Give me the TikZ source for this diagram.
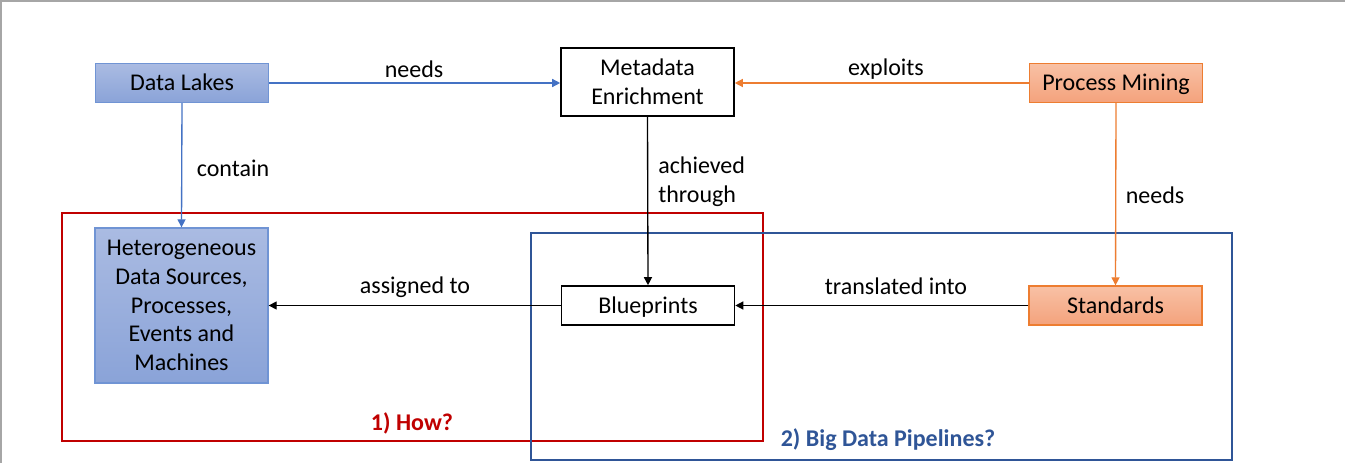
\documentclass[tikz,border=0pt]{standalone}
\usepackage{fontspec}
\setmainfont{Carlito}
\usetikzlibrary{arrows.meta,positioning}
\definecolor{lakeTop}{HTML}{AABBE2}
\definecolor{lakeBot}{HTML}{8AA3D8}
\definecolor{lakeLine}{HTML}{7094D4}
\definecolor{pmTop}{HTML}{F8C1A5}
\definecolor{pmBot}{HTML}{F4A27C}
\definecolor{pmLine}{HTML}{ED7D31}
\definecolor{arrBlue}{HTML}{4472C4}
\definecolor{boxRed}{HTML}{C00000}
\definecolor{boxBlue}{HTML}{2F5597}
\definecolor{frameGray}{HTML}{A6A6A6}
\tikzset{
  every node/.style={font=\fontsize{18}{21.5}\selectfont, inner sep=0pt},
  oneline/.style={text height=12.5pt, text depth=1pt},
  bluebox/.style={draw=lakeLine, line width=1pt, top color=lakeTop, bottom color=lakeBot, minimum width=129.75pt, align=center},
  orangebox/.style={draw=pmLine, line width=1pt, top color=pmTop, bottom color=pmBot, minimum width=129.75pt, minimum height=29.25pt, oneline},
  plainbox/.style={draw=black, line width=1.2pt, fill=white, minimum width=129.75pt, align=center},
  lbl/.style={align=left},
  tip/.style={-{Triangle[length=6pt,width=6pt]}},
  bluearr/.style={tip, draw=arrBlue, line width=1pt},
  orangearr/.style={tip, draw=pmLine, line width=1pt},
  blackarr/.style={tip, draw=black, line width=1pt},
}
\begin{document}
\begin{tikzpicture}[x=0.75pt,y=-0.75pt]
\useasboundingbox (0,0) rectangle (1345,463);
\fill[white] (0,0) rectangle (1345,463);
\draw[frameGray, line width=1.5pt] (0,1) -- (1345,1);
\draw[frameGray, line width=1.5pt] (1,0) -- (1,463);

% group boxes
\draw[boxRed, line width=1.1pt] (62,213) rectangle (763,441);
\draw[boxBlue, line width=1.1pt] (531,233) rectangle (1232,460);
\node[text=boxRed, font=\fontsize{18}{21}\selectfont\bfseries] (how) at (412,423) {1) How?};
\node[text=boxBlue, font=\fontsize{18}{21}\selectfont\bfseries] (bdp) at (888,440) {2) Big Data Pipelines?};

% nodes
\node[bluebox, minimum height=29.25pt, oneline] (lakes) at (182,83) {Data Lakes};
\node[plainbox, minimum height=51pt] (meta) at (647.5,82) {Metadata\\Enrichment};
\node[orangebox] (pm) at (1116,83) {Process Mining};
\node[bluebox, minimum height=116.25pt] (het) at (181.5,305.5) {Heterogeneous\\Data Sources,\\Processes,\\Events and\\Machines};
\node[plainbox, minimum height=29.25pt, oneline] (blue) at (648,305.5) {Blueprints};
\node[orangebox] (std) at (1115.5,305.5) {Standards};

% connectors
\draw[bluearr] (lakes.east) -- (lakes.east -| meta.west);
\draw[orangearr] (pm.west) -- (pm.west -| meta.east);
\draw[bluearr] (lakes.south) -- (het.north);
\draw[blackarr] (meta.south) -- (blue.north);
\draw[orangearr] (pm.south) -- (std.north);
\draw[blackarr] (blue.west) -- (het.east);
\draw[blackarr] (std.west) -- (blue.east);

% labels
\node (l1) at (414,69) {needs};
\node (l2) at (886,69) {exploits};
\node (l3) at (233,168) {contain};
\node[lbl, anchor=west] (l4) at (658,181.5) {achieved\\through};
\node (l5) at (1155,195) {needs};
\node (l6) at (415,287) {assigned to};
\node (l7) at (896,286) {translated into};
\end{tikzpicture}
\end{document}
